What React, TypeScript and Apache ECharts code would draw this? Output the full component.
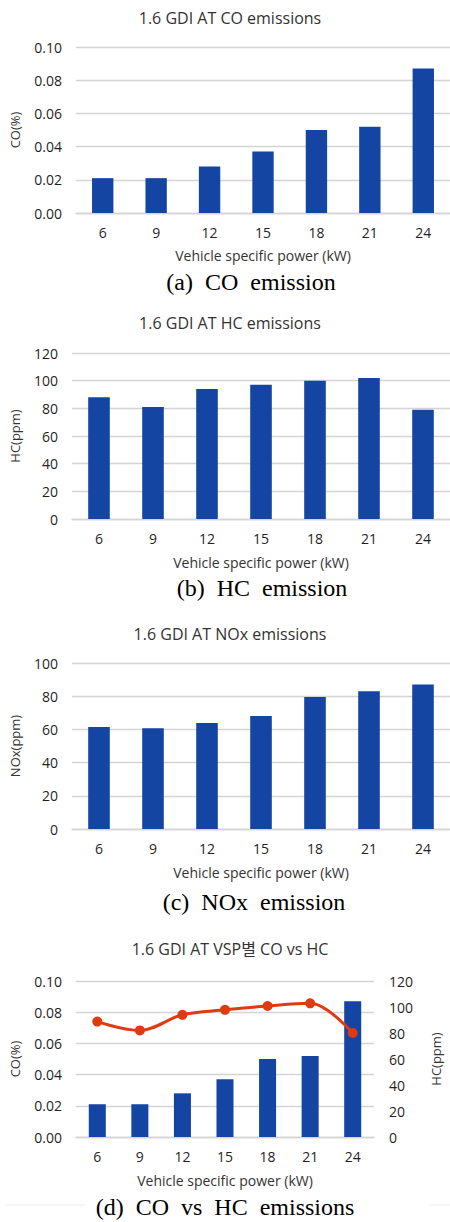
import React, { useEffect, useRef } from "react";
import * as echarts from "echarts";

const vsp = ["6", "9", "12", "15", "18", "21", "24"];
const coValues = [0.021, 0.021, 0.028, 0.037, 0.050, 0.052, 0.087];
const hcValues = [88, 81, 94, 97, 100, 102, 79];
const noxValues = [61.5, 60.7, 63.8, 68, 79.5, 83, 87];
const hcLineValues = [88.8, 82, 94, 97.8, 100.8, 102.8, 80];

const titles = [
  "1.6 GDI AT CO emissions",
  "1.6 GDI AT HC emissions",
  "1.6 GDI AT NOx emissions",
  "1.6 GDI AT VSP별 CO vs HC",
];
const captions = [
  "(a)  CO  emission",
  "(b)  HC  emission",
  "(c)  NOx  emission",
  "(d)  CO  vs  HC  emissions",
];
const xName = "Vehicle specific power (kW)";

const FONT = "'Open Sans', 'Noto Sans CJK KR', sans-serif";
const SERIF = "'Liberation Serif', 'DejaVu Serif', serif";
const BAR = "#1545A3";
const LINE = "#E03A12";
const GRIDC = "#D4D4D4";
const TXT = "#1f1f1f";
const NAMEC = "#333333";

export default function App() {
  const ref = useRef<HTMLDivElement>(null);
  useEffect(() => {
    if (!ref.current) return;
    const chart = echarts.init(ref.current, undefined, { renderer: "svg" });

    const grids = [
      { left: 72, top: 47, width: 379, height: 166 },
      { left: 68, top: 353, width: 383, height: 166 },
      { left: 68, top: 663, width: 383, height: 166 },
      { left: 72, top: 981, width: 314, height: 156 },
    ];
    const xGaps = [35, 36, 36, 36];

    const xAxes = grids.map((_, i) => ({
      type: "category",
      gridIndex: i,
      data: vsp,
      name: xName,
      nameLocation: "middle",
      nameGap: xGaps[i],
      nameTextStyle: { fontFamily: FONT, fontSize: 14, color: NAMEC },
      axisLine: { show: true, lineStyle: { color: GRIDC, width: 1.3 } },
      axisTick: { show: false },
      axisLabel: { margin: 12, fontFamily: FONT, fontSize: 14, color: TXT },
    }));

    const yBase = (i: number, min: number, max: number, interval: number, name: string, gap: number, fmt?: (v: number) => string) => ({
      type: "value",
      gridIndex: i,
      min,
      max,
      interval,
      name,
      nameLocation: "middle",
      nameGap: gap,
      nameRotate: 90,
      nameTextStyle: { fontFamily: FONT, fontSize: 13, color: NAMEC },
      axisLine: { show: false },
      axisTick: { show: false },
      axisLabel: {
        margin: 14,
        fontFamily: FONT,
        fontSize: 14,
        color: TXT,
        formatter: fmt,
      },
      splitLine: { show: true, lineStyle: { color: GRIDC, width: 1.3 } },
    });

    const fmt2 = (v: number) => v.toFixed(2);
    const yAxes: any[] = [
      yBase(0, 0, 0.1, 0.02, "CO(%)", 55, fmt2),
      yBase(1, 0, 120, 20, "HC(ppm)", 51),
      yBase(2, 0, 100, 20, "NOx(ppm)", 51),
      yBase(3, 0, 0.1, 0.02, "CO(%)", 55, fmt2),
      {
        ...yBase(3, 0, 120, 20, "HC(ppm)", 55),
        position: "right",
        splitLine: { show: false },
        axisLabel: { margin: 15, fontFamily: FONT, fontSize: 14, color: TXT },
      },
    ];

    const barSeries = (xi: number, yi: number, data: number[]) => ({
      type: "bar",
      xAxisIndex: xi,
      yAxisIndex: yi,
      data,
      barWidth: "40%",
      itemStyle: { color: BAR },
    });

    const titleY = [18, 323, 634, 949];
    const capPos = [
      [251, 282],
      [262, 588],
      [254, 902],
      [225, 1207],
    ];

    const graphics: any[] = [];
    titles.forEach((t, i) => {
      graphics.push({
        type: "text",
        x: 230,
        y: titleY[i],
        style: {
          text: t,
          fontFamily: FONT,
          fontSize: 16,
          fill: "#333333",
          textAlign: "center",
          textVerticalAlign: "middle",
        },
      });
    });
    graphics.push(
      { type: "line", shape: { x1: 6, y1: 1205, x2: 85, y2: 1205 }, style: { stroke: "#EBEBEB", lineWidth: 1 } },
      { type: "line", shape: { x1: 430, y1: 1205, x2: 450, y2: 1205 }, style: { stroke: "#EBEBEB", lineWidth: 1 } }
    );
    captions.forEach((c, i) => {
      graphics.push({
        type: "text",
        x: capPos[i][0],
        y: capPos[i][1],
        style: {
          text: c,
          fontFamily: SERIF,
          fontSize: 24,
          fill: "#000",
          textAlign: "center",
          textVerticalAlign: "middle",
        },
      });
    });

    chart.setOption({
      animation: false,
      backgroundColor: "#ffffff",
      grid: grids,
      xAxis: xAxes,
      yAxis: yAxes,
      series: [
        barSeries(0, 0, coValues),
        barSeries(1, 1, hcValues),
        barSeries(2, 2, noxValues),
        barSeries(3, 3, coValues),
        {
          type: "line",
          xAxisIndex: 3,
          yAxisIndex: 4,
          data: hcLineValues,
          smooth: 0.35,
          symbol: "circle",
          symbolSize: 10,
          lineStyle: { color: LINE, width: 3 },
          itemStyle: { color: LINE },
          z: 5,
        },
      ],
      graphic: graphics,
    });
    return () => chart.dispose();
  }, []);

  return (
    <div
      ref={ref}
      style={{ position: "absolute", left: 0, top: 0, width: 450, height: 1222, background: "#fff" }}
    />
  );
}
